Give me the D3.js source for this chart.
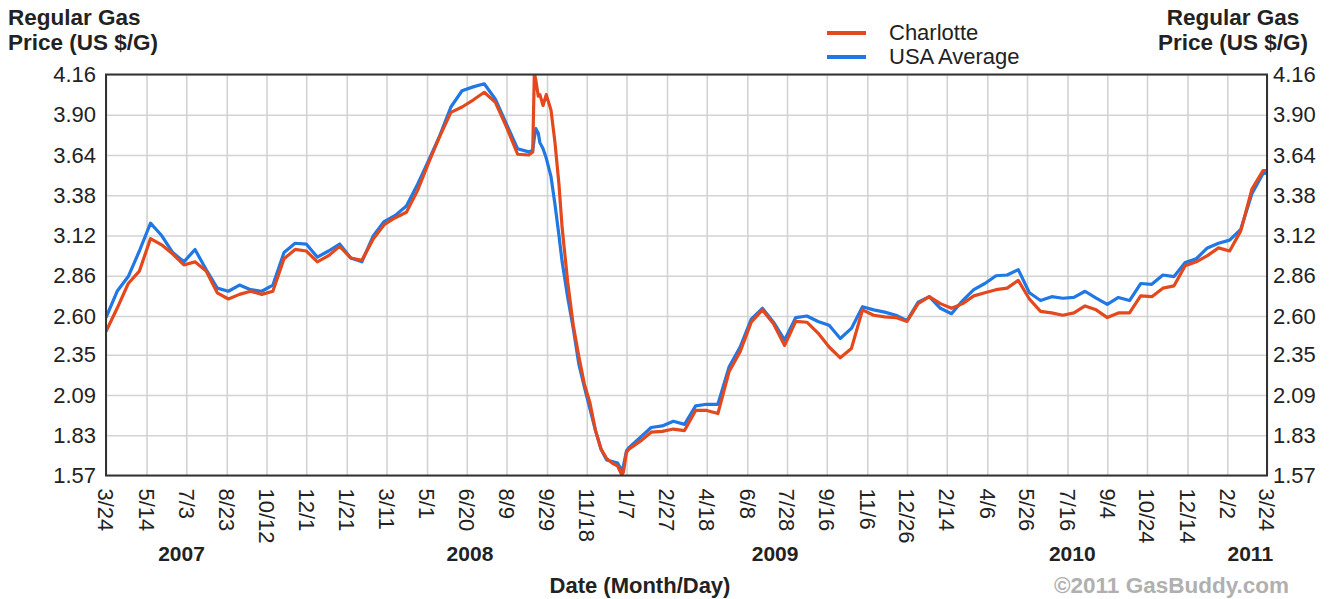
<!DOCTYPE html>
<html>
<head>
<meta charset="utf-8">
<script src="https://cdn.jsdelivr.net/npm/d3@7"></script>
<style>
  body { margin: 0; background: #fff; }
  text { font-family: "Liberation Sans", Arial, sans-serif; }
</style>
</head>
<body>
<div id="okvir"></div>
<script>
// weekly-ish sample dates
const dates = [
  "2007-03-24","2007-04-07","2007-04-21","2007-05-05","2007-05-19","2007-06-02","2007-06-16","2007-06-30",
  "2007-07-14","2007-07-28","2007-08-11","2007-08-25","2007-09-08","2007-09-22","2007-10-06","2007-10-20",
  "2007-11-03","2007-11-17","2007-12-01","2007-12-15","2007-12-29","2008-01-12","2008-01-26","2008-02-09",
  "2008-02-23","2008-03-08","2008-03-22","2008-04-05","2008-04-19","2008-05-03","2008-05-17","2008-05-31",
  "2008-06-14","2008-06-28","2008-07-12","2008-07-26","2008-08-09","2008-08-23","2008-09-06","2008-09-11",
  "2008-09-13","2008-09-15","2008-09-18","2008-09-20","2008-09-24","2008-09-28","2008-10-04","2008-10-09",
  "2008-10-14","2008-10-18","2008-10-25","2008-11-01","2008-11-08","2008-11-15","2008-11-22","2008-11-29",
  "2008-12-06","2008-12-13","2008-12-20","2008-12-27","2009-01-01","2009-01-03","2009-01-07","2009-01-10",
  "2009-01-24","2009-02-07","2009-02-21","2009-03-07","2009-03-21","2009-04-04","2009-04-18","2009-05-02",
  "2009-05-16","2009-05-30","2009-06-13","2009-06-27","2009-07-11","2009-07-25","2009-08-08","2009-08-22",
  "2009-09-05","2009-09-19","2009-10-03","2009-10-17","2009-10-31","2009-11-14","2009-11-28","2009-12-12",
  "2009-12-26","2010-01-09","2010-01-23","2010-02-06","2010-02-20","2010-03-06","2010-03-20","2010-04-03",
  "2010-04-17","2010-05-01","2010-05-15","2010-05-29","2010-06-12","2010-06-26","2010-07-10","2010-07-24",
  "2010-08-07","2010-08-21","2010-09-04","2010-09-18","2010-10-02","2010-10-16","2010-10-30","2010-11-13",
  "2010-11-27","2010-12-11","2010-12-25","2011-01-08","2011-01-22","2011-02-05","2011-02-19","2011-03-05",
  "2011-03-19","2011-03-24"
];

const charlotte = [
  2.50,2.65,2.81,2.89,3.10,3.06,3.00,2.93,
  2.95,2.89,2.75,2.71,2.74,2.76,2.74,2.76,
  2.97,3.03,3.02,2.95,2.99,3.05,2.975,2.96,
  3.095,3.19,3.235,3.27,3.41,3.59,3.76,3.915,
  3.95,3.995,4.045,3.98,3.82,3.645,3.64,3.66,
  4.17,4.12,4.02,4.03,3.96,4.03,3.93,3.72,
  3.45,3.17,2.82,2.54,2.34,2.16,2.04,1.86,
  1.74,1.68,1.65,1.63,1.575,1.59,1.72,1.74,
  1.79,1.85,1.855,1.87,1.86,1.99,1.99,1.97,
  2.24,2.37,2.56,2.64,2.55,2.41,2.565,2.56,
  2.49,2.40,2.33,2.39,2.64,2.605,2.595,2.59,
  2.565,2.68,2.725,2.68,2.65,2.68,2.73,2.75,
  2.77,2.78,2.83,2.71,2.63,2.62,2.605,2.62,
  2.665,2.64,2.59,2.62,2.62,2.73,2.725,2.78,
  2.795,2.925,2.95,2.99,3.04,3.02,3.15,3.42,
  3.54,3.54
];

const usaAverage = [
  2.59,2.76,2.855,3.02,3.20,3.12,3.01,2.95,
  3.03,2.90,2.78,2.76,2.80,2.77,2.76,2.80,
  3.01,3.07,3.065,2.98,3.02,3.065,2.975,2.95,
  3.115,3.21,3.25,3.31,3.45,3.605,3.765,3.95,
  4.055,4.08,4.10,4.00,3.84,3.68,3.66,3.67,
  3.75,3.81,3.78,3.72,3.68,3.62,3.50,3.32,
  3.12,2.95,2.72,2.52,2.29,2.14,2.00,1.86,
  1.74,1.67,1.66,1.65,1.60,1.63,1.73,1.75,
  1.815,1.88,1.89,1.92,1.90,2.02,2.03,2.03,
  2.27,2.40,2.58,2.65,2.56,2.445,2.59,2.60,
  2.565,2.54,2.455,2.52,2.66,2.64,2.625,2.605,
  2.57,2.69,2.725,2.65,2.615,2.70,2.77,2.81,
  2.86,2.865,2.90,2.75,2.70,2.725,2.715,2.72,
  2.76,2.715,2.675,2.72,2.70,2.81,2.805,2.865,
  2.855,2.945,2.97,3.04,3.07,3.09,3.16,3.39,
  3.52,3.525
];

const xTicks = [
  "2007-03-24","2007-05-14","2007-07-03","2007-08-23","2007-10-12","2007-12-01","2008-01-21","2008-03-11",
  "2008-05-01","2008-06-20","2008-08-09","2008-09-29","2008-11-18","2009-01-07","2009-02-27","2009-04-18",
  "2009-06-08","2009-07-28","2009-09-16","2009-11-06","2009-12-26","2010-02-14","2010-04-06","2010-05-26",
  "2010-07-16","2010-09-04","2010-10-24","2010-12-14","2011-02-02","2011-03-24"
];
const yTicks = [1.57, 1.83, 2.09, 2.35, 2.60, 2.86, 3.12, 3.38, 3.64, 3.90, 4.16];
const yearLabels = ["2007", "2008", "2009", "2010", "2011"];
const yearDates = ["2007-06-27", "2008-06-24", "2009-07-13", "2010-07-22", "2011-03-03"];
const seriesNames = ["Charlotte", "USA Average"];
const seriesColors = ["#e4491d", "#1f78e4"];

const parse = d3.timeParse("%Y-%m-%d");
const fmt = d3.timeFormat("%-m/%-d");

const dim = {
  sirina: 1330,
  visina: 599,
  left: 106,
  right: 1267,
  top: 74.5,
  bottom: 475.5,
};

const svg = d3.select("#okvir")
  .append("svg")
  .attr("width", dim.sirina)
  .attr("height", dim.visina);

const xSkala = d3.scaleTime()
  .domain([parse("2007-03-24"), parse("2011-03-24")])
  .range([dim.left, dim.right]);

const ySkala = d3.scaleLinear()
  .domain([1.57, 4.16])
  .range([dim.bottom, dim.top]);

// grid
svg.append("g")
  .attr("transform", `translate(0,${dim.bottom})`)
  .call(d3.axisBottom(xSkala).tickValues(xTicks.map(parse)).tickSize(-(dim.bottom - dim.top)).tickFormat(""))
  .call(g => g.select(".domain").remove())
  .selectAll("line").attr("stroke", "#d3d3d3").attr("stroke-width", 1.6);

svg.append("g")
  .attr("transform", `translate(${dim.left},0)`)
  .call(d3.axisLeft(ySkala).tickValues(yTicks).tickSize(-(dim.right - dim.left)).tickFormat(""))
  .call(g => g.select(".domain").remove())
  .selectAll("line").attr("stroke", "#d3d3d3").attr("stroke-width", 1.6);

// lines
svg.append("clipPath").attr("id", "clip")
  .append("rect")
  .attr("x", dim.left).attr("y", dim.top)
  .attr("width", dim.right - dim.left).attr("height", dim.bottom - dim.top);

const linija = vals => d3.line()
  .x((d, i) => xSkala(parse(dates[i])))
  .y(d => ySkala(d))(vals);

svg.append("path")
  .attr("d", linija(usaAverage))
  .attr("fill", "none")
  .attr("stroke", seriesColors[1])
  .attr("stroke-width", 3.2)
  .attr("stroke-linejoin", "round")
  .attr("clip-path", "url(#clip)");

svg.append("path")
  .attr("d", linija(charlotte))
  .attr("fill", "none")
  .attr("stroke", seriesColors[0])
  .attr("stroke-width", 3.2)
  .attr("stroke-linejoin", "round")
  .attr("clip-path", "url(#clip)");

// frame
svg.append("rect")
  .attr("x", dim.left).attr("y", dim.top)
  .attr("width", dim.right - dim.left).attr("height", dim.bottom - dim.top)
  .attr("fill", "none")
  .attr("stroke", "#333")
  .attr("stroke-width", 2);

// y labels both sides
const lijevo = svg.append("g")
  .attr("transform", `translate(${dim.left - 10},0)`)
  .call(d3.axisLeft(ySkala).tickValues(yTicks).tickSize(0).tickFormat(d3.format(".2f")));
lijevo.select(".domain").remove();
lijevo.selectAll("text").style("font-size", "22px").attr("fill", "#222").attr("x", 0);

const desno = svg.append("g")
  .attr("transform", `translate(${dim.right + 6},0)`)
  .call(d3.axisRight(ySkala).tickValues(yTicks).tickSize(0).tickFormat(d3.format(".2f")));
desno.select(".domain").remove();
desno.selectAll("text").style("font-size", "22px").attr("fill", "#222").attr("x", 0);

// x labels, rotated
svg.append("g")
  .selectAll("text")
  .data(xTicks)
  .enter()
  .append("text")
  .attr("transform", d => `translate(${xSkala(parse(d))},${dim.bottom + 13}) rotate(90)`)
  .attr("dy", "0.35em")
  .style("font-size", "22px")
  .attr("fill", "#222")
  .text(d => fmt(parse(d)));

svg.append("g")
  .selectAll("text")
  .data(yearLabels)
  .enter()
  .append("text")
  .attr("x", (d, i) => xSkala(parse(yearDates[i])))
  .attr("y", 561)
  .attr("text-anchor", "middle")
  .style("font-size", "21px")
  .style("font-weight", "bold")
  .attr("fill", "#222")
  .text(d => d);

svg.append("text")
  .attr("x", 640).attr("y", 593)
  .attr("text-anchor", "middle")
  .style("font-size", "22px")
  .style("font-weight", "bold")
  .attr("fill", "#222")
  .text("Date (Month/Day)");

svg.append("text")
  .attr("x", 1289).attr("y", 593)
  .attr("text-anchor", "end")
  .style("font-size", "22.5px")
  .style("font-weight", "bold")
  .attr("fill", "#b0b0b0")
  .text("©2011 GasBuddy.com");

// axis titles
[["Regular Gas", 25], ["Price (US $/G)", 50]].forEach(([t, y]) => {
  svg.append("text").attr("x", 8).attr("y", y)
    .style("font-size", "22.5px").style("font-weight", "bold").attr("fill", "#222").text(t);
  svg.append("text").attr("x", 1233).attr("y", y).attr("text-anchor", "middle")
    .style("font-size", "22.5px").style("font-weight", "bold").attr("fill", "#222").text(t);
});

// legend
const legenda = svg.append("g");
seriesNames.forEach((name, i) => {
  legenda.append("line")
    .attr("x1", 827).attr("x2", 866)
    .attr("y1", 33 + i * 24).attr("y2", 33 + i * 24)
    .attr("stroke", seriesColors[i])
    .attr("stroke-width", 4);
  legenda.append("text")
    .attr("x", 889).attr("y", 40 + i * 24)
    .style("font-size", "22px")
    .attr("fill", "#222")
    .text(name);
});
</script>
</body>
</html>
